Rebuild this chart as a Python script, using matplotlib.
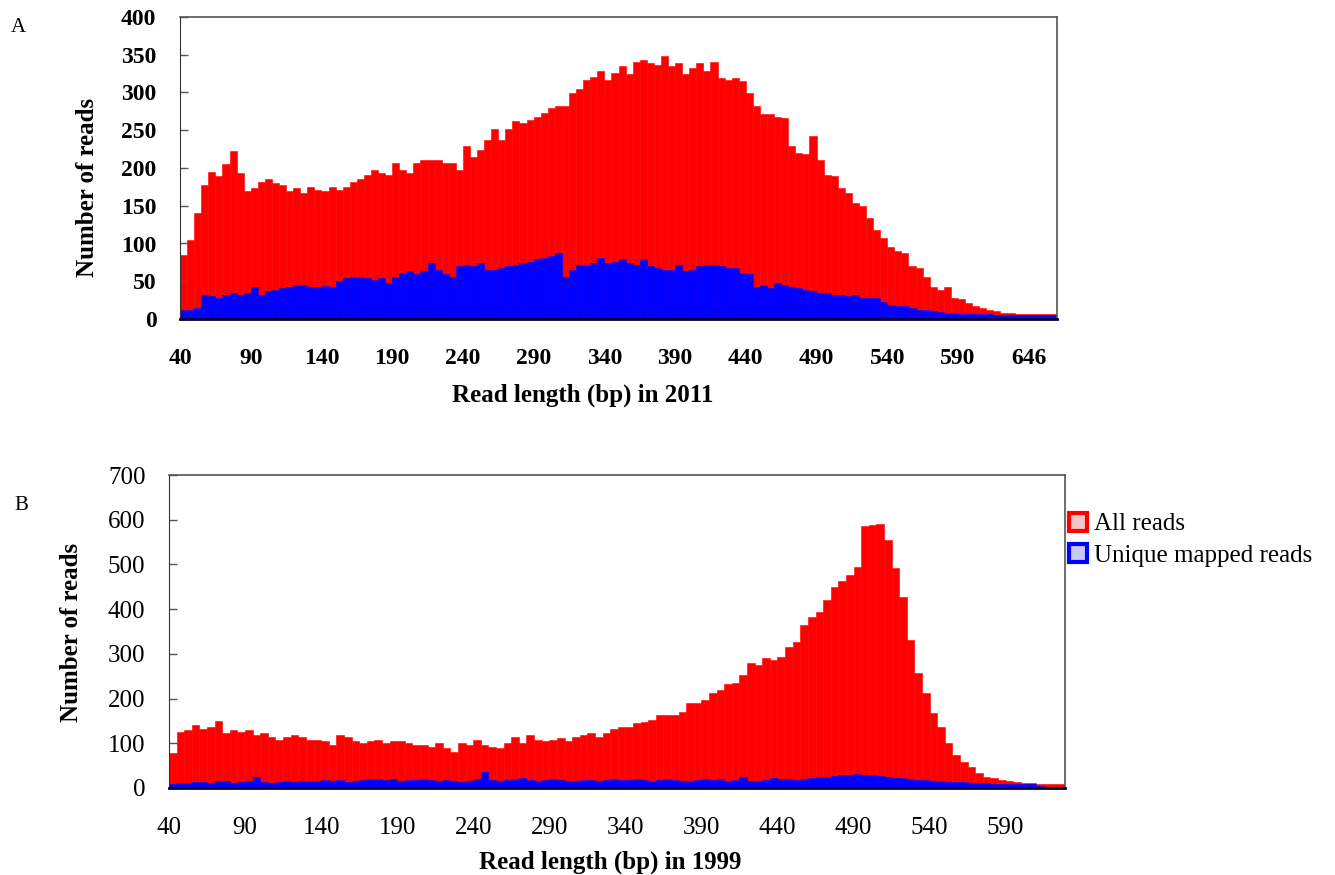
import numpy as np
import matplotlib
matplotlib.use("Agg")
import matplotlib.pyplot as plt
from matplotlib.patches import Patch

plt.rcParams["font.family"] = ["Liberation Serif", "DejaVu Serif"]

# read counts sampled every 5 length categories (category 0 = 40 bp)
A_ALL = [85, 105, 140, 178, 195, 190, 205, 222, 193, 170, 173, 182,
         185, 180, 178, 170, 173, 167, 175, 171, 169, 175, 171, 175,
         182, 185, 191, 198, 193, 191, 206, 198, 193, 207, 211, 211,
         211, 207, 207, 198, 229, 215, 224, 237, 251, 237, 251, 262,
         260, 264, 268, 273, 279, 282, 282, 299, 304, 317, 321, 328,
         317, 326, 335, 324, 341, 343, 339, 337, 348, 335, 339, 324,
         332, 339, 328, 341, 319, 317, 319, 315, 299, 282, 271, 271,
         268, 266, 229, 220, 218, 242, 211, 191, 189, 173, 167, 154,
         150, 134, 118, 107, 96, 90, 87, 70, 68, 56, 42, 39,
         43, 28, 26, 21, 17, 15, 12, 10, 8, 8, 7, 7,
         6, 6, 6, 6, 5]
A_UNIQUE = [12, 12, 15, 32, 30, 28, 32, 34, 32, 34, 43, 32,
            37, 39, 41, 43, 45, 45, 43, 43, 44, 43, 50, 54,
            56, 56, 54, 52, 54, 48, 56, 61, 63, 59, 63, 74,
            65, 59, 56, 70, 72, 70, 74, 65, 65, 68, 70, 72,
            74, 76, 79, 81, 83, 87, 56, 65, 72, 72, 74, 81,
            74, 76, 79, 74, 72, 79, 70, 68, 65, 65, 72, 63,
            65, 70, 72, 72, 70, 68, 68, 61, 59, 43, 45, 41,
            48, 45, 43, 41, 39, 37, 34, 34, 32, 32, 30, 32,
            28, 28, 28, 23, 19, 17, 17, 15, 12, 12, 10, 9,
            8, 8, 7, 7, 6, 6, 6, 5, 5, 5, 5, 5,
            5, 5, 5, 5, 5]
B_ALL = [78, 126, 130, 140, 133, 137, 150, 122, 130, 126, 130, 119,
         122, 115, 107, 115, 119, 115, 107, 107, 104, 96, 119, 115,
         104, 100, 104, 107, 100, 104, 104, 100, 96, 96, 92, 100,
         89, 81, 100, 96, 107, 96, 92, 89, 100, 115, 100, 119,
         107, 104, 107, 111, 104, 115, 119, 122, 115, 122, 133, 137,
         137, 145, 148, 152, 163, 163, 163, 171, 190, 189, 197, 212,
         219, 232, 234, 253, 279, 275, 290, 286, 294, 316, 327, 365,
         383, 394, 421, 450, 462, 477, 495, 585, 588, 590, 555, 491,
         428, 331, 257, 212, 167, 137, 100, 74, 59, 48, 33, 25,
         22, 19, 16, 14, 12, 12, 10, 10, 10, 10]
B_UNIQUE = [10, 12, 12, 14, 14, 12, 15, 15, 12, 14, 16, 25,
            14, 12, 14, 16, 14, 16, 15, 16, 18, 16, 18, 14,
            16, 18, 20, 20, 18, 20, 16, 18, 18, 20, 18, 16,
            18, 16, 14, 16, 20, 35, 18, 16, 18, 20, 22, 18,
            16, 18, 20, 18, 16, 16, 18, 18, 16, 18, 20, 18,
            18, 20, 18, 16, 18, 20, 18, 16, 16, 18, 20, 18,
            20, 16, 18, 25, 16, 16, 18, 22, 20, 20, 18, 20,
            22, 24, 24, 26, 28, 30, 32, 30, 28, 26, 25, 22,
            22, 20, 18, 18, 16, 15, 14, 14, 13, 12, 12, 11,
            10, 10, 10, 10, 9, 8, 4, 3, 3, 3]

A_TICKLABELS = ["40", "90", "140", "190", "240", "290", "340", "390",
                "440", "490", "540", "590", "646"]
B_TICKLABELS = ["40", "90", "140", "190", "240", "290", "340", "390",
                "440", "490", "540", "590"]
STEP = 5
RED, BLUE = "#ff0000", "#0000ff"

W, H = 1335, 875
fig = plt.figure(figsize=(W / 100, H / 100), dpi=100)
axA = fig.add_axes([180 / W, 1 - 319 / H, 877 / W, 302 / H])
axB = fig.add_axes([169 / W, 1 - 788 / H, 896 / W, 313 / H])


def draw(ax, all_reads, unique, ticklabels, xmax, ymax, ystep, bold):
    x = np.arange(len(all_reads)) * STEP
    ax.bar(x, all_reads, width=STEP, align="edge", color=RED,
           edgecolor=RED, linewidth=0.4)
    ax.bar(x, unique, width=STEP, align="edge", color=BLUE,
           edgecolor=BLUE, linewidth=0.4)
    ax.set_xlim(0, xmax)
    ax.set_ylim(0, ymax)
    weight = "bold" if bold else "normal"
    ax.set_xticks(np.arange(len(ticklabels)) * 50, labels=ticklabels,
                  fontsize=17 if bold else 18, fontweight=weight)
    ax.set_yticks(np.arange(0, ymax + 1, ystep))
    ax.set_yticklabels([str(v) for v in np.arange(0, ymax + 1, ystep)],
                       fontsize=17 if bold else 18, fontweight=weight)
    ax.tick_params(axis="x", length=0, pad=21)
    ax.tick_params(axis="y", direction="in", length=6, width=1,
                   color="#555555", pad=17)
    for s in ("top", "right"):
        ax.spines[s].set_color("#555555")
        ax.spines[s].set_linewidth(1.2)
    ax.spines["left"].set_color("#333333")
    ax.spines["bottom"].set_color("#000033")
    ax.spines["bottom"].set_linewidth(2)


draw(axA, A_ALL, A_UNIQUE, A_TICKLABELS, 620, 400, 50, True)
draw(axB, B_ALL, B_UNIQUE, B_TICKLABELS, 589, 700, 100, False)

fig.text(88 / W, 1 - 187 / H, "Number of reads", rotation=90, ha="center",
         va="center", fontsize=18, fontweight="bold")
fig.text(72 / W, 1 - 632 / H, "Number of reads", rotation=90, ha="center",
         va="center", fontsize=18, fontweight="bold")
fig.text(583 / W, 1 - 395 / H, "Read length (bp) in 2011", ha="center",
         va="center", fontsize=18, fontweight="bold")
fig.text(610 / W, 1 - 862 / H, "Read length (bp) in 1999", ha="center",
         va="center", fontsize=18, fontweight="bold")
fig.text(18 / W, 1 - 27 / H, "A", ha="center", va="center", fontsize=15)
fig.text(21 / W, 1 - 505 / H, "B", ha="center", va="center", fontsize=15)

handles = [Patch(facecolor="#f2c6c6", edgecolor=RED, linewidth=3),
           Patch(facecolor="#c8c8f0", edgecolor=BLUE, linewidth=3)]
fig.legend(handles, ["All reads", "Unique mapped reads"], loc="upper left",
           bbox_to_anchor=(1069 / W, 1 - 513 / H), frameon=False,
           fontsize=18, handlelength=0.7, handleheight=0.7,
           handletextpad=0.3, borderpad=0, borderaxespad=0,
           labelspacing=0.35)

fig.savefig("out.png", dpi=100)
